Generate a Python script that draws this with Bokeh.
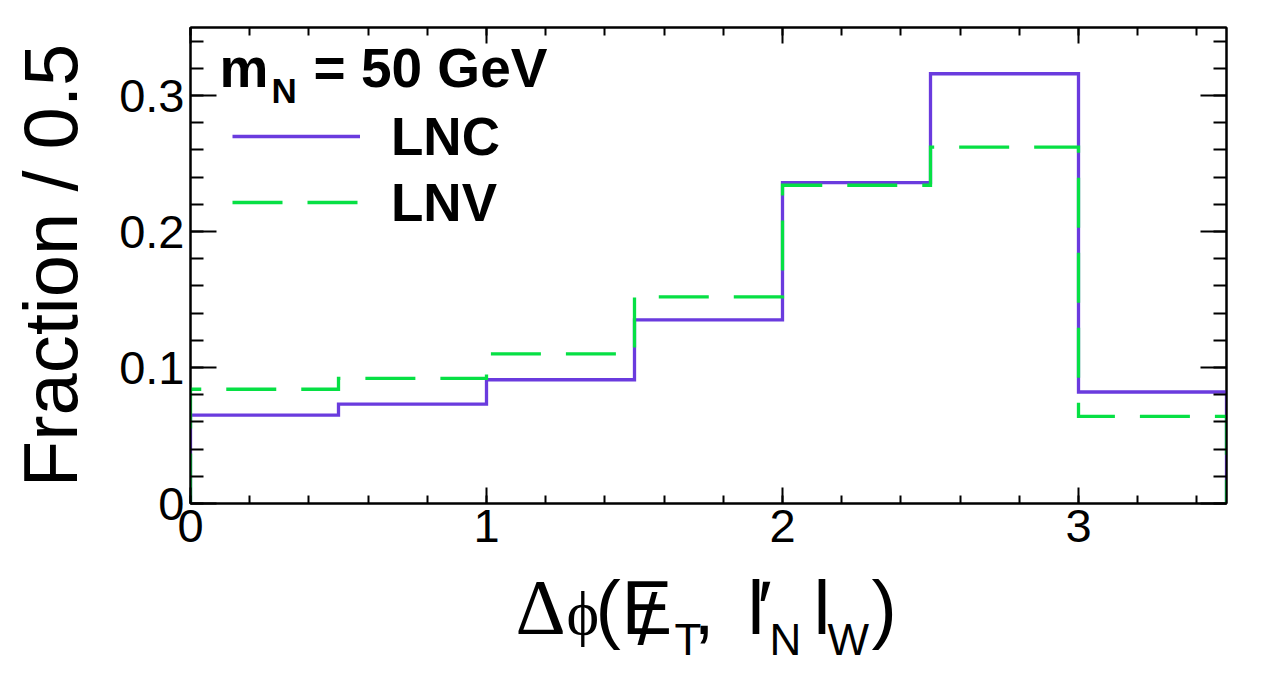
from bokeh.plotting import figure
from bokeh.layouts import column
from bokeh.models import (FixedTicker, LinearAxis, Label, Legend, LegendItem, Range1d)
from bokeh.embed import file_html
from bokeh.resources import INLINE

# ---- data ----
bin_edges = [0.0, 0.5, 1.0, 1.5, 2.0, 2.5, 3.0, 3.5]
lnc = [0.065, 0.073, 0.091, 0.135, 0.236, 0.316, 0.082]
lnv = [0.084, 0.092, 0.110, 0.152, 0.234, 0.262, 0.064]
series_names = ["LNC", "LNV"]
y_ticks = [0, 0.1, 0.2, 0.3]
y_tick_labels = ["0", "0.1", "0.2", "0.3"]
x_ticks = [0, 1, 2, 3]
x_tick_labels = ["0", "1", "2", "3"]
y_title = "Fraction / 0.5"
mass_text = "= 50 GeV"

PURPLE = "#6a3bde"
GREEN = "#06e044"
FONT = "Liberation Sans"

W = 1262
H_MAIN = 564
H_STRIP = 101
FL, FR, FT, FB = 190, 1226, 27, 503   # frame edges in page pixels
BASE_SHIFT = 0.37                      # label baseline correction (em)


def step_path(edges, vals):
    xs, ys = [edges[0]], [0.0]
    for i, v in enumerate(vals):
        xs += [edges[i], edges[i + 1]]
        ys += [v, v]
    xs.append(edges[-1])
    ys.append(0.0)
    return xs, ys


p = figure(width=W, height=H_MAIN, x_range=Range1d(0, 3.5), y_range=Range1d(0, 0.35),
           output_backend="svg", toolbar_location=None,
           min_border_left=FL, min_border_right=W - FR, min_border_top=FT,
           min_border_bottom=H_MAIN - FB)
p.xgrid.visible = False
p.ygrid.visible = False
p.outline_line_color = "black"
p.outline_line_width = 2
p.background_fill_color = "white"
p.border_fill_color = "white"

y_minor = [round(0.02 * k, 4) for k in range(0, 18)]
x_minor = [round(0.2 * k, 4) for k in range(0, 18)]


def style_axis(ax, major_len, minor_len):
    ax.axis_line_width = 2
    ax.axis_line_color = "black"
    ax.major_tick_in = major_len
    ax.major_tick_out = 0
    ax.minor_tick_in = minor_len
    ax.minor_tick_out = 0
    ax.major_tick_line_width = 2
    ax.minor_tick_line_width = 2
    ax.major_tick_line_color = "black"
    ax.minor_tick_line_color = "black"


# left axis
ya = p.yaxis[0]
ya.ticker = FixedTicker(ticks=y_ticks, minor_ticks=y_minor)
ya.major_label_overrides = dict(zip(y_ticks, y_tick_labels))
ya.major_label_text_font = FONT
ya.major_label_text_font_size = "47px"
ya.major_label_text_color = "black"
ya.major_label_standoff = 6
ya.axis_label = y_title
ya.axis_label_text_font = FONT
ya.axis_label_text_font_size = "76px"
ya.axis_label_text_font_style = "normal"
ya.axis_label_text_color = "black"
ya.axis_label_standoff = 23
style_axis(ya, 26, 13)

# bottom axis
xa = p.xaxis[0]
xa.ticker = FixedTicker(ticks=x_ticks, minor_ticks=x_minor)
xa.major_label_overrides = dict(zip(x_ticks, x_tick_labels))
xa.major_label_text_font = FONT
xa.major_label_text_font_size = "47px"
xa.major_label_text_color = "black"
xa.major_label_standoff = 6
style_axis(xa, 16, 8)

# right and top mirror axes (ticks only)
ra = LinearAxis(ticker=FixedTicker(ticks=y_ticks, minor_ticks=y_minor),
                major_label_overrides={t: "" for t in y_ticks},
                major_label_text_font_size="0px")
style_axis(ra, 26, 13)
p.add_layout(ra, "right")
ta = LinearAxis(ticker=FixedTicker(ticks=x_ticks, minor_ticks=x_minor),
                major_label_overrides={t: "" for t in x_ticks},
                major_label_text_font_size="0px")
style_axis(ta, 16, 8)
p.add_layout(ta, "above")

# histograms
cx, cy = step_path(bin_edges, lnc)
vx, vy = step_path(bin_edges, lnv)
r1 = p.line(cx, cy, line_color=PURPLE, line_width=3.3, line_join="miter")
r2 = p.line(vx, vy, line_color=GREEN, line_width=3.3, line_dash="50 25", line_join="miter")

legend = Legend(items=[LegendItem(label=series_names[0], renderers=[r1]),
                       LegendItem(label=series_names[1], renderers=[r2])],
                location=(42, 268), padding=0, margin=0, spacing=0,
                glyph_width=128, glyph_height=66, label_standoff=31,
                label_text_font=FONT, label_text_font_style="bold",
                label_text_font_size="53px", label_text_color="black",
                background_fill_alpha=0, border_line_alpha=0)
p.add_layout(legend)


def px2x(px):
    return (px - FL) * 3.5 / (FR - FL)


def py2y(py):
    return (FB - py) * 0.35 / (FB - FT)


def lab_main(text, px, py, size, style="normal"):
    yy = py - BASE_SHIFT * size
    p.add_layout(Label(x=px2x(px), y=py2y(yy), text=text, text_font=FONT,
                       text_font_size=f"{size}px", text_font_style=style,
                       text_align="left", text_baseline="alphabetic",
                       text_color="black"))


# legend header m_N = 50 GeV  (target baselines in page pixels)
lab_main("m", 219, 88, 55, style="bold")
lab_main("N", 271, 103, 35, style="bold")
lab_main(mass_text, 313, 88, 55, style="bold")

# ---- strip below holding the x-axis title (page pixel coordinates) ----
p2 = figure(width=W, height=H_STRIP, x_range=Range1d(FL, FR),
            y_range=Range1d(H_MAIN + H_STRIP, H_MAIN),
            x_axis_location=None, y_axis_location=None,
            output_backend="svg", toolbar_location=None,
            min_border_left=FL, min_border_right=W - FR,
            min_border_top=0, min_border_bottom=0)
p2.grid.visible = False
p2.outline_line_color = None
p2.background_fill_color = "white"
p2.border_fill_color = "white"


def lab2(text, px, py, size, font=FONT):
    p2.add_layout(Label(x=px, y=py - BASE_SHIFT * size, text=text, text_font=font,
                        text_font_size=f"{size}px", text_align="left",
                        text_baseline="alphabetic", text_color="black"))


# x-axis title:  Δφ(E̸_T, l'_N l_W)   (target baselines in page pixels)
base = 635
lab2("\u0394", 515, base, 78, font="Liberation Serif")
lab2("\u03d5", 566, base, 62, font="Liberation Serif")
lab2("(", 595, base, 76)
lab2("E", 621, base, 76)
lab2("/", 637, base + 10, 72)
lab2("T", 674, 655, 44)
lab2(",", 693, base, 76)
lab2("l", 747, base, 76)
lab2("\u2032", 757, base, 76)
lab2("N", 769, 655, 44)
lab2("l", 813, base, 76)
lab2("W", 827, 655, 44)
lab2(")", 871, base, 76)

layout = column(p, p2, spacing=0)
open("out.html", "w").write(file_html(layout, INLINE))
